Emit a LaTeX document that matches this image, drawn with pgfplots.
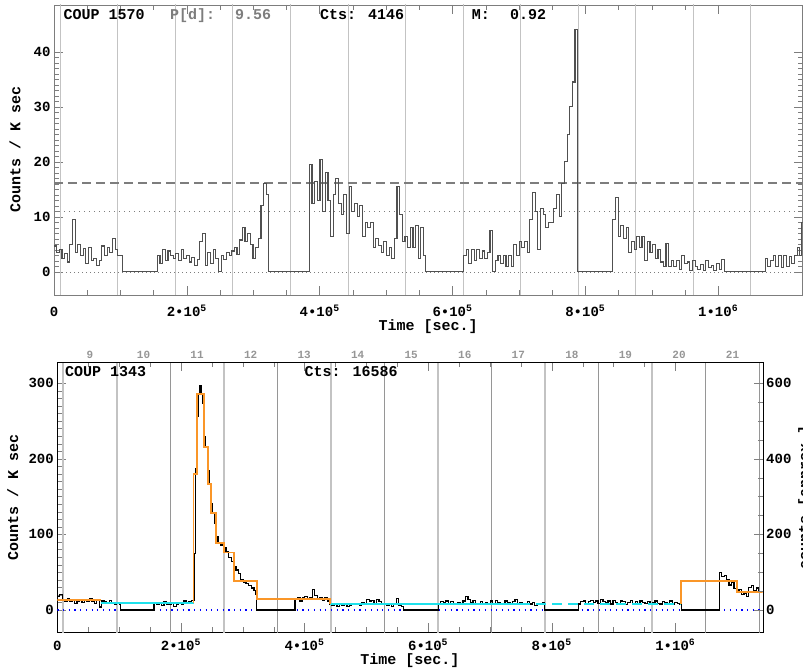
\documentclass[border=0pt]{standalone}
\usepackage{fontspec}
\setmainfont{Liberation Mono}
\usepackage{pgfplots}
\pgfplotsset{compat=1.18}

\definecolor{histgray}{RGB}{80,80,80}
\definecolor{refgray}{RGB}{125,125,125}
\definecolor{dayline}{RGB}{195,195,195}
\definecolor{daydark}{RGB}{150,150,150}
\definecolor{bborange}{RGB}{250,150,40}
\definecolor{bbcyan}{RGB}{30,225,235}

\newcommand{\tl}{\fontsize{14}{16}\selectfont\bfseries}
\newcommand{\lb}{\fontsize{15}{17}\selectfont\bfseries}

\pgfplotsset{
  coupaxis/.style={
    scale only axis,
    anchor=south west,
    tick align=inside,
    major tick length=9pt,
    minor tick length=5pt,
    xtick={0,200,400,600,800,1000},
    xticklabels={0,{2•10\textsuperscript{5}},{4•10\textsuperscript{5}},{6•10\textsuperscript{5}},{8•10\textsuperscript{5}},{1•10\textsuperscript{6}}},
    minor x tick num=3,
    tick label style={font=\tl},
    /pgf/number format/assume math mode=true,
    xlabel={Time [sec.]},
    ylabel={Counts / K sec},
    label style={font=\lb},
  }
}

\begin{document}
\begin{tikzpicture}
\useasboundingbox (0,0) rectangle (803pt,671pt);

% ---------------- top panel: COUP 1570 ----------------
\begin{axis}[coupaxis,
  at={(54pt,376pt)}, width=748.5pt, height=290pt,
  xmin=0, xmax=1127, ymin=-4.2, ymax=48.5,
  ytick={0,10,20,30,40}, minor y tick num=9,
  axis line style={refgray}, every tick/.style={refgray},
  xticklabel style={anchor=base, yshift=-22pt},
  xlabel style={at={(axis description cs:0.5,-0.11)}, anchor=center},
  ylabel style={at={(axis description cs:-0.0521,0.5)}, anchor=center},
]
\addplot[dayline, line width=1pt, unbounded coords=jump, forget plot] coordinates {
 (9.5,-10)(9.5,60)(9.5,nan) (96.15,-10)(96.15,60)(96.15,nan)
 (182.8,-10)(182.8,60)(182.8,nan) (269.45,-10)(269.45,60)(269.45,nan)
 (356.1,-10)(356.1,60)(356.1,nan) (442.75,-10)(442.75,60)(442.75,nan)
 (529.4,-10)(529.4,60)(529.4,nan) (616.05,-10)(616.05,60)(616.05,nan)
 (702.7,-10)(702.7,60)(702.7,nan) (789.35,-10)(789.35,60)(789.35,nan)
 (876,-10)(876,60)(876,nan) (962.65,-10)(962.65,60)(962.65,nan)
 (1049.3,-10)(1049.3,60)};
\addplot[refgray, line width=1.7pt, dash pattern=on 9pt off 5pt] coordinates {(0,16.1)(1127,16.1)};
\addplot[refgray, line width=1.4pt, dash pattern=on 1.4pt off 3.6pt] coordinates {(0,11.0)(1127,11.0)};
\addplot[refgray, line width=0.6pt, dash pattern=on 1pt off 3pt] coordinates {(0,0)(1127,0)};
\addplot[histgray, line width=1.1pt, const plot] coordinates {
 (0,4.7)(4,3.5)(8,4.0)(12,2.5)(16,3.3)(20,1.8)(24,5.0)(28,9.5)(32,3.5)(36,5.0)
 (40,3.0)(44,4.3)(48,1.5)(52,4.5)(56,2.0)(60,2.5)(64,1.2)(68,2.0)(72,4.7)(76,3.0)
 (80,4.5)(84,3.5)(88,6.0)(92,4.0)(96,3.0)(100,3.0)(103,0)
 (155.6,3.0)(159.6,1.5)(163.6,4.0)(167.6,2.0)(171.6,3.8)(175.6,3.0)(179.6,2.5)(183.6,3.3)
 (187.6,2.0)(191.6,4.0)(195.6,2.5)(199.6,3.0)(203.6,1.8)(207.6,2.6)(211.6,1.2)(215.6,2.3)
 (219.6,5.5)(223.6,7.0)(227.6,1.2)(231.6,3.5)(235.6,1.5)(239.6,4.0)(243.6,2.5)(247.6,0.0)
 (251.6,3.0)(255.6,2.2)(259.6,3.5)(263.6,3.0)(267.6,3.8)(271.6,4.5)(275.6,3.2)(279.6,5.8)
 (283.6,8.0)(287.6,5.5)(291.6,7.0)(295.6,5.0)(299.6,2.5)(303.6,4.5)(307.6,6.0)(311.6,12.0)
 (315.6,16.0)(319.6,14.0)(322.5,0)
 (384.5,19.5)(388.5,12.5)(392.5,16.5)(396.5,13.0)(400.5,20.5)(404.5,11.0)(408.5,18.0)(412.5,13.0)
 (416.5,6.5)(420.5,14.0)(424.5,17.0)(428.5,12.5)(432.5,10.5)(436.5,14.0)(440.5,7.0)(444.5,15.5)
 (448.5,11.0)(452.5,12.5)(456.5,10.0)(460.5,12.0)(464.5,6.5)(468.5,9.0)(472.5,8.0)(476.5,9.0)
 (480.5,4.5)(484.5,6.0)(488.5,4.8)(492.5,3.5)(496.5,5.5)(500.5,3.0)(504.5,4.5)(508.5,2.5)
 (512.5,6.0)(516.5,15.5)(520.5,10.5)(524.5,5.5)(528.5,6.5)(532.5,4.5)(536.5,8.0)(540.5,4.5)
 (544.5,8.5)(548.5,2.5)(552.5,8.0)(556.5,3.0)(559.5,0)
 (616.5,3.0)(620.5,4.0)(624.5,1.5)(628.5,4.0)(632.5,2.0)(636.5,4.0)(640.5,2.5)(644.5,3.8)
 (648.5,2.5)(652.5,3.5)(656.5,7.5)(660.5,0.0)(664.5,2.0)(668.5,3.0)(672.5,1.5)(676.5,3.0)
 (680.5,1.0)(684.5,3.0)(688.5,1.0)(692.5,5.0)(696.5,3.0)(700.5,5.5)(704.5,4.5)(708.5,5.5)
 (712.5,3.5)(716.5,9.5)(720.5,14.5)(724.5,11.0)(728.5,4.0)(732.5,11.5)(736.5,10.5)(740.5,8.0)
 (744.5,9.0)(748.5,9.0)(752.5,11.5)(756.5,14.0)(760.5,10.0)(764.5,16.0)(768.5,20.0)(772.5,25.0)
 (776.5,30.0)(780.5,34.5)(784.5,44.0)(788.5,0)
 (841.4,9.5)(845.4,13.5)(849.4,6.5)(853.4,8.5)(857.4,6.0)(861.4,8.0)(865.4,3.5)(869.4,5.5)
 (873.4,4.0)(877.4,6.5)(881.4,4.5)(885.4,6.5)(889.4,2.0)(893.4,5.5)(897.4,3.5)(901.4,5.0)
 (905.4,2.5)(909.4,4.0)(913.4,1.8)(917.4,1.0)(921.4,5.2)(925.4,1.0)(929.4,2.0)(933.4,1.0)
 (937.4,2.0)(941.4,0.5)(945.4,3.0)(949.4,1.5)(953.4,1.8)(957.4,0.3)(961.4,2.0)(965.4,1.0)
 (969.4,0.5)(973.4,1.3)(977.4,0.3)(981.4,2.0)(985.4,0.8)(989.4,1.2)(993.4,0.3)(997.4,1.5)
 (1001.4,0.5)(1005.4,2.2)(1009.4,0)
 (1070.8,2.5)(1074.8,1.0)(1078.8,2.0)(1082.8,3.0)(1086.8,1.0)(1090.8,3.0)(1094.8,0.8)(1098.8,3.0)
 (1102.8,1.0)(1106.8,2.8)(1110.8,1.5)(1114.8,3.0)(1118.8,4.5)(1122.8,3.0)(1126.0,9.0)(1130,9.0)};
\end{axis}

% ---------------- bottom panel: COUP 1343 ----------------
\begin{axis}[coupaxis,
  at={(57.3pt,38.7pt)}, width=705.4pt, height=270pt,
  xmin=0, xmax=1141.4, ymin=-29.5, ymax=327.6,
  ytick={0,100,200,300}, minor y tick num=9, ytick pos=left,
  xticklabel style={anchor=base, yshift=-18.4pt},
  xlabel style={at={(axis description cs:0.5,-0.106)}, anchor=center},
  ylabel style={at={(axis description cs:-0.0632,0.5)}, anchor=center},
]
\addplot[dayline, line width=2pt, unbounded coords=jump, forget plot] coordinates {
 (9.5,-50)(9.5,400)(9.5,nan) (96.15,-50)(96.15,400)(96.15,nan)
 (269.45,-50)(269.45,400)(269.45,nan) (442.75,-50)(442.75,400)(442.75,nan)
 (616.05,-50)(616.05,400)(616.05,nan) (789.35,-50)(789.35,400)(789.35,nan)
 (962.65,-50)(962.65,400)};
\addplot[daydark, line width=1pt, unbounded coords=jump, forget plot] coordinates {
 (182.8,-50)(182.8,400)(182.8,nan) (356.1,-50)(356.1,400)(356.1,nan)
 (529.4,-50)(529.4,400)(529.4,nan) (702.7,-50)(702.7,400)(702.7,nan)
 (876,-50)(876,400)(876,nan) (1049.3,-50)(1049.3,400)(1049.3,nan)
 (1135.95,-50)(1135.95,400)};
\addplot[blue, line width=1.2pt, dash pattern=on 1.2pt off 4.5pt] coordinates {(0,0)(1141.4,0)};
\addplot[black, line width=1.2pt, const plot] coordinates {
 (0,18)(4,20)(8,14)(12,12)(16,15)(20,11)(24,13)(28,9)(32,12)(36,14)(40,10)(44,13)(48,11)
 (52,15)(56,12)(60,9)(64,13)(68,4)(72,12)(76,11)(80,9)(84,13)(88,10)(92,8)(96,9)(100,8)(102,0)
 (156.5,10)(160.5,7)(164.5,9)(168.5,6)(172.5,11)(176.5,8)(180.5,7)(184.5,9)(188.5,5)(192.5,8)
 (196.5,10)(200.5,7)(204.5,12)(208.5,9)(212.5,11)(216.5,13)
 (221.2,75)(223.3,187)(225.5,256)(227.6,286)(230.9,297)(233.0,285)(235.2,273)(237.3,229)
 (239.5,216)(242.7,185)(246.0,167)(249.2,141)(251.4,128)(254.6,115)(256.8,97)(260.0,88)
 (264.3,86)(269.7,82)(272.9,77)(277.3,69)(281.6,64)(285.9,57)(289.1,53)(293.4,48)(296.7,40)
 (301.0,37)(305.3,35)(309.6,32)(313.9,29)(318.2,26)(320.4,20)(322.6,0)
 (384.6,14)(388.6,17)(392.6,12)(396.6,16)(400.6,18)(404.6,15)(408.6,17)(412.6,27)(416.6,19)
 (420.6,14)(424.6,16)(428.6,13)(432.6,17)(436.6,12)(440.6,8)(444.6,6)(448.6,7)(452.6,5)
 (456.6,8)(460.6,6)(464.6,7)(468.6,5)(472.6,6)(476.6,9)(480.6,7)(484.6,8)(488.6,6)(492.6,10)
 (496.6,7)(500.6,14)(504.6,12)(508.6,13)(512.6,9)(516.6,14)(520.6,11)(524.6,8)(528.6,7)
 (532.6,6)(536.6,9)(540.6,5)(544.6,7)(548.6,15)(552.6,6)(556.6,5)(560.6,0)
 (616.5,9)(620.5,11)(624.5,10)(628.5,12)(632.5,8)(636.5,11)(640.5,9)(644.5,7)(648.5,10)
 (652.5,8)(656.5,12)(660.5,18)(664.5,14)(668.5,10)(672.5,13)(676.5,9)(680.5,8)(684.5,11)
 (688.5,7)(692.5,10)(696.5,9)(700.5,12)(704.5,8)(708.5,13)(712.5,10)(716.5,9)(720.5,7)
 (724.5,12)(728.5,10)(732.5,8)(736.5,11)(740.5,14)(744.5,9)(748.5,10)(752.5,7)(756.5,9)
 (760.5,11)(764.5,8)(768.5,10)(772.5,6)(776.5,9)(780.5,8)(784.5,10)(788.5,0)
 (843,8)(847,11)(851,12)(855,9)(859,11)(863,13)(867,10)(871,12)(875,9)(879,14)(883,11)
 (887,10)(891,12)(895,8)(899,13)(903,10)(907,9)(911,12)(915,11)(919,7)(923,10)(927,13)
 (931,9)(935,11)(939,8)(943,12)(947,10)(951,9)(955,11)(959,7)(963,10)(967,12)(971,9)
 (975,8)(979,11)(983,10)(987,9)(991,12)(995,8)(999,10)(1003,9)(1007,7)(1010,0)
 (1071,50)(1075,44)(1079,46)(1083,40)(1087,33)(1091,37)(1095,28)(1099,24)(1103,27)
 (1107,20)(1111,22)(1115,18)(1119,30)(1123,32)(1127,26)(1131,29)(1135,24)(1142,24)};
\addplot[bbcyan, line width=2pt] coordinates {(70,8.8)(221,8.8)};
\addplot[bbcyan, line width=2pt] coordinates {(441,8.5)(749,8.5)};
\addplot[bbcyan, line width=2pt, dash pattern=on 10pt off 6pt] coordinates {(749,7.5)(1009.4,7.5)};
\addplot[bborange, line width=1.8pt, const plot] coordinates {(0,13)(70,13)};
\addplot[bborange, line width=1.8pt, const plot] coordinates {
 (220.3,8.8)(220.3,180)(225.5,286)(237.3,216)(243.8,167)(249.2,128)(256.2,89)
 (269.7,76)(285.9,38.8)(322.6,15)(441,8.5)};
\addplot[bborange, line width=1.8pt, const plot] coordinates {
 (1009.4,7.5)(1009.4,38.8)(1099.4,23.4)(1142,23.4)};
\end{axis}

% overlay: observing-day numbers on top, approximate counts on the right
\begin{axis}[scale only axis, anchor=south west,
  at={(57.3pt,38.7pt)}, width=705.4pt, height=270pt,
  xmin=0, xmax=1141.4, ymin=-59, ymax=655.2,
  axis x line*=top, axis y line*=right,
  tick align=inside, major tick length=9pt, minor tick length=5pt,
  xtick={52.8,139.5,226.1,312.8,399.4,486.1,572.7,659.4,746.0,832.7,919.3,1006.0,1092.6},
  xticklabels={9,10,11,12,13,14,15,16,17,18,19,20,21},
  xtick style={draw=none},
  xticklabel style={font=\fontsize{11}{12}\selectfont\bfseries, text=daydark},
  ytick={0,200,400,600}, minor y tick num=3,
  yticklabel style={font=\tl},
  /pgf/number format/assume math mode=true,
  ylabel={counts [approx.]}, ylabel style={font=\lb},
]
\end{axis}

% header texts
\node[anchor=base west, inner sep=0, font=\lb] at (63.3pt,651pt) {COUP 1570};
\node[anchor=base west, inner sep=0, font=\lb, text=refgray] at (170pt,651pt) {P[d]:};
\node[anchor=base west, inner sep=0, font=\lb, text=refgray] at (235pt,651pt) {9.56};
\node[anchor=base west, inner sep=0, font=\lb] at (320pt,651pt) {Cts: 4146};
\node[anchor=base west, inner sep=0, font=\lb] at (471.7pt,651pt) {M:};
\node[anchor=base west, inner sep=0, font=\lb] at (510pt,651pt) {0.92};
\node[anchor=base west, inner sep=0, font=\lb] at (65pt,294.3pt) {COUP 1343};
\node[anchor=base west, inner sep=0, font=\lb] at (304.3pt,294.3pt) {Cts: 16586};
\end{tikzpicture}
\end{document}
